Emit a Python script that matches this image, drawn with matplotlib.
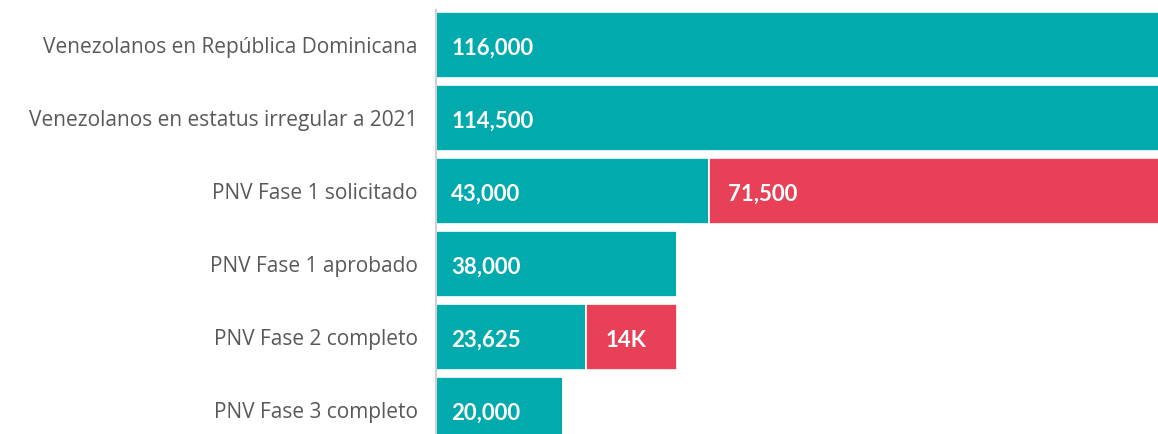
import matplotlib
matplotlib.use('Agg')
import matplotlib.pyplot as plt

plt.rcParams['font.family'] = ['Open Sans', 'DejaVu Sans']

TEAL = '#00AAAD'
RED = '#E84057'
GREY = '#595959'

categories = ['Venezolanos en República Dominicana',
              'Venezolanos en estatus irregular a 2021',
              'PNV Fase 1 solicitado',
              'PNV Fase 1 aprobado',
              'PNV Fase 2 completo',
              'PNV Fase 3 completo']
teal_vals = [116000, 114500, 43000, 38000, 23625, 20000]
red_vals = [0, 0, 71500, 0, 14375, 0]
teal_labels = ['116,000', '114,500', '43,000', '38,000', '23,625', '20,000']
red_labels = ['', '', '71,500', '', '14K', '']

fig = plt.figure(figsize=(11.58, 4.34), dpi=100)
ax = fig.add_axes([436/1158, 0, 1 - 436/1158, 1])

y = range(len(categories))
ax.barh(y, teal_vals, height=0.9, color=TEAL, edgecolor='white', linewidth=1.2)
ax.barh(y, red_vals, left=teal_vals, height=0.9, color=RED, edgecolor='white', linewidth=1.2)

val_font = dict(ha='left', va='center', color='white', fontsize=16,
                fontweight='bold', family=['Lato', 'DejaVu Sans'])
for i in y:
    ax.annotate(teal_labels[i], (0, i), xytext=(11, -2.5), textcoords='offset points', **val_font)
    if red_vals[i]:
        ax.annotate(red_labels[i], (teal_vals[i], i), xytext=(14, -2.5), textcoords='offset points', **val_font)

ax.set_xlim(0, 113800)
ax.set_ylim(5.33, -0.616)
ax.set_yticks(list(y))
ax.set_yticklabels(categories, fontsize=15, color=GREY)
ax.tick_params(axis='y', length=0, pad=13)
ax.set_xticks([])
for s in ['top', 'right', 'bottom']:
    ax.spines[s].set_visible(False)
ax.spines['left'].set_color('#D0D0D0')
ax.spines['left'].set_linewidth(1.5)
ax.spines['left'].set_bounds(5.33, -0.48)

fig.savefig('out.png', dpi=100)
